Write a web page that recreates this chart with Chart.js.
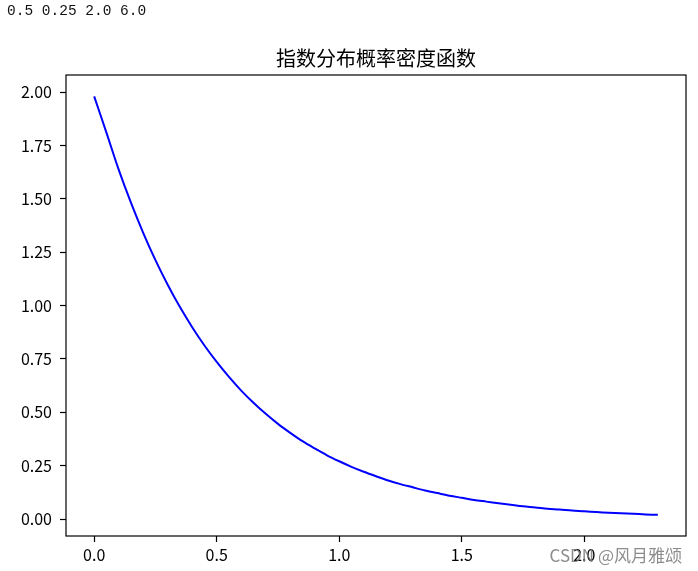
<!DOCTYPE html>
<html>
<head>
<meta charset="utf-8">
<script src="https://cdn.jsdelivr.net/npm/chart.js@4/dist/chart.umd.min.js"></script>
<style>
    body { margin: 0; background: #fff; }
    #wrap { position: relative; width: 698px; height: 571px; }
    #stats {
        position: absolute; left: 7px; top: 3px;
        font-family: 'Liberation Mono', monospace; font-size: 14.5px; color: #111;
        white-space: pre;
    }
    #mark {
        position: absolute; right: 16px; top: 542px;
        font-family: 'Noto Sans CJK SC', sans-serif; font-size: 17px;
        color: rgba(120, 120, 120, 0.85);
    }
</style>
</head>
<body>
<div id="wrap">
    <canvas id="pdfChart"></canvas>
    <div id="stats">0.5 0.25 2.0 6.0</div>
    <div id="mark">CSDN @风月雅颂</div>
</div>
<script>
// values
const xValues = [0.00, 0.05, 0.10, 0.15, 0.20, 0.25, 0.30, 0.35, 0.40, 0.45,
    0.50, 0.55, 0.60, 0.65, 0.70, 0.75, 0.80, 0.85, 0.90, 0.95,
    1.00, 1.05, 1.10, 1.15, 1.20, 1.25, 1.30, 1.35, 1.40, 1.45,
    1.50, 1.55, 1.60, 1.65, 1.70, 1.75, 1.80, 1.85, 1.90, 1.95,
    2.00, 2.05, 2.10, 2.15, 2.20, 2.25, 2.30];
const pdfValues = [1.98, 1.81, 1.637, 1.482, 1.341, 1.213, 1.098, 0.993, 0.899, 0.813,
    0.736, 0.666, 0.602, 0.545, 0.493, 0.446, 0.404, 0.365, 0.331, 0.299,
    0.271, 0.245, 0.222, 0.201, 0.181, 0.164, 0.149, 0.134, 0.122, 0.110,
    0.100, 0.090, 0.082, 0.074, 0.067, 0.060, 0.055, 0.049, 0.045, 0.040,
    0.037, 0.033, 0.030, 0.027, 0.025, 0.022, 0.020];
const xTicks = [0.0, 0.5, 1.0, 1.5, 2.0];
const yTicks = [0.00, 0.25, 0.50, 0.75, 1.00, 1.25, 1.50, 1.75, 2.00];

const tickFont = { family: "'Noto Sans CJK SC', sans-serif", size: 16 };

// matplotlib style box around the plot
const frame = {
    id: 'frame',
    afterDraw(chart) {
        const { ctx, chartArea: a } = chart;
        ctx.save();
        ctx.strokeStyle = '#000';
        ctx.lineWidth = 1.2;
        ctx.strokeRect(a.left, a.top, a.right - a.left, a.bottom - a.top);
        ctx.restore();
    }
};

const ctx = document.getElementById('pdfChart').getContext('2d');
new Chart(ctx, {
    type: 'line',
    data: {
        datasets: [{
            data: xValues.map((x, i) => ({ x: x, y: pdfValues[i] })),
            borderColor: '#0000ff',
            borderWidth: 2,
            pointRadius: 0,
            tension: 0.3,
            fill: false
        }]
    },
    options: {
        responsive: true,
        maintainAspectRatio: false,
        animation: false,
        layout: { padding: { left: 0, right: 12, top: 0, bottom: 0 } },
        plugins: {
            legend: { display: false },
            tooltip: { enabled: false },
            title: {
                display: true,
                text: '指数分布概率密度函数',
                fullSize: false,
                color: '#000',
                font: { family: "'Noto Sans CJK SC', sans-serif", size: 20, weight: 'normal' },
                padding: { top: 46, bottom: 5 }
            }
        },
        scales: {
            x: {
                type: 'linear',
                min: -0.115,
                max: 2.415,
                afterBuildTicks: (axis) => { axis.ticks = xTicks.map(v => ({ value: v })); },
                afterFit: (axis) => { axis.height = 35; },
                grid: { drawOnChartArea: false, tickLength: 6, color: '#000', tickWidth: 1.2 },
                border: { display: false },
                ticks: {
                    color: '#000',
                    font: tickFont,
                    padding: 3,
                    maxRotation: 0,
                    callback: (v) => v.toFixed(1)
                }
            },
            y: {
                min: -0.079,
                max: 2.08,
                afterBuildTicks: (axis) => { axis.ticks = yTicks.map(v => ({ value: v })); },
                afterFit: (axis) => { axis.width = 66; },
                grid: { drawOnChartArea: false, tickLength: 6, color: '#000', tickWidth: 1.2 },
                border: { display: false },
                ticks: {
                    color: '#000',
                    font: tickFont,
                    padding: 8,
                    callback: (v) => v.toFixed(2)
                }
            }
        }
    },
    plugins: [frame]
});
</script>
</body>
</html>
